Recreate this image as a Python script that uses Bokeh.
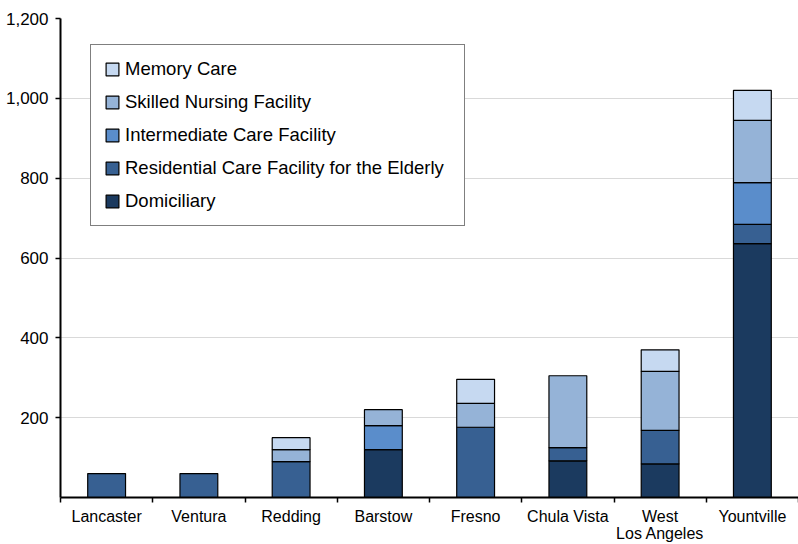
from bokeh.plotting import figure
from bokeh.models import (ColumnDataSource, Range1d, FixedTicker, NumeralTickFormatter,
                          Legend, LegendItem)
from bokeh.embed import file_html
from bokeh.resources import INLINE

categories = ["Lancaster", "Ventura", "Redding", "Barstow", "Fresno",
              "Chula Vista", "West\nLos Angeles", "Yountville"]
domiciliary = [0, 0, 0, 120, 0, 92, 84, 636]
rcfe = [60, 60, 90, 0, 176, 33, 84, 48]
icf = [0, 0, 0, 60, 0, 0, 0, 105]
snf = [0, 0, 30, 40, 60, 180, 148, 156]
memory_care = [0, 0, 30, 0, 60, 0, 54, 75]

series_names = ["Domiciliary", "Residential Care Facility for the Elderly",
                "Intermediate Care Facility", "Skilled Nursing Facility", "Memory Care"]
series_keys = ["dom", "rcfe", "icf", "snf", "mc"]
colors = ["#1B3A5F", "#376092", "#5A8DCB", "#95B3D7", "#C6D9F1"]
y_ticks = [200, 400, 600, 800, 1000, 1200]

xpos = [i + 0.5 for i in range(len(categories))]
data = dict(x=xpos, dom=domiciliary, rcfe=rcfe, icf=icf, snf=snf, mc=memory_care)
for k in series_keys:
    data[k + "_la"] = [1.0 if v > 0 else 0.0 for v in data[k]]
source = ColumnDataSource(data)

p = figure(width=798, height=544, output_backend="svg", toolbar_location=None,
           x_range=Range1d(0, len(categories)), y_range=Range1d(0, 1200),
           min_border_left=60, min_border_right=0, min_border_top=18,
           min_border_bottom=10)
p.outline_line_color = None
p.background_fill_color = "white"
p.border_fill_color = "white"

renderers = p.vbar_stack(series_keys, x="x", width=0.41, source=source,
                         fill_color=colors, line_color="black", line_width=1.2,
                         line_alpha=[k + "_la" for k in series_keys])

# axes
font = "Liberation Sans"
p.yaxis.ticker = FixedTicker(ticks=y_ticks)
p.yaxis.formatter = NumeralTickFormatter(format="0,0")
p.yaxis.axis_line_width = 2
p.yaxis.axis_line_color = "black"
p.yaxis.major_tick_out = 5
p.yaxis.major_tick_in = 0
p.yaxis.minor_tick_line_color = None
p.yaxis.major_tick_line_width = 1.5
p.yaxis.major_label_standoff = 7
p.yaxis.major_label_text_font = font
p.yaxis.major_label_text_font_size = "17px"
p.yaxis.major_label_text_color = "black"

p.xaxis.ticker = FixedTicker(ticks=xpos, minor_ticks=list(range(len(categories) + 1)))
p.xaxis.major_label_overrides = {x: c for x, c in zip(xpos, categories)}
p.xaxis.major_tick_line_color = None
p.xaxis.major_tick_out = 0
p.xaxis.major_tick_in = 0
p.xaxis.minor_tick_line_color = "black"
p.xaxis.minor_tick_line_width = 1.5
p.xaxis.minor_tick_out = 5
p.xaxis.minor_tick_in = 0
p.xaxis.axis_line_width = 2
p.xaxis.axis_line_color = "black"
p.xaxis.major_label_standoff = 5
p.xaxis.major_label_text_font = font
p.xaxis.major_label_text_font_size = "16px"
p.xaxis.major_label_text_color = "black"
p.xaxis.major_label_text_line_height = 1.0

p.xgrid.grid_line_color = None
p.ygrid.ticker = FixedTicker(ticks=y_ticks)
p.ygrid.grid_line_color = "#D9D9D9"
p.ygrid.grid_line_width = 1

legend_index = len(categories) - 1
items = [LegendItem(label=n, renderers=[r], index=legend_index)
         for n, r in zip(series_names, renderers)]
legend = Legend(items=items[::-1], location=(30, 271))
legend.label_text_font = font
legend.label_text_font_size = "18.5px"
legend.label_text_color = "black"
legend.glyph_width = 16
legend.glyph_height = 16
legend.label_standoff = 5
legend.label_width = 326
legend.spacing = 11
legend.padding = 13
legend.margin = 0
legend.border_line_color = "black"
legend.border_line_width = 1.3
legend.background_fill_alpha = 1
p.add_layout(legend, "center")

open("out.html", "w").write(file_html(p, INLINE))
